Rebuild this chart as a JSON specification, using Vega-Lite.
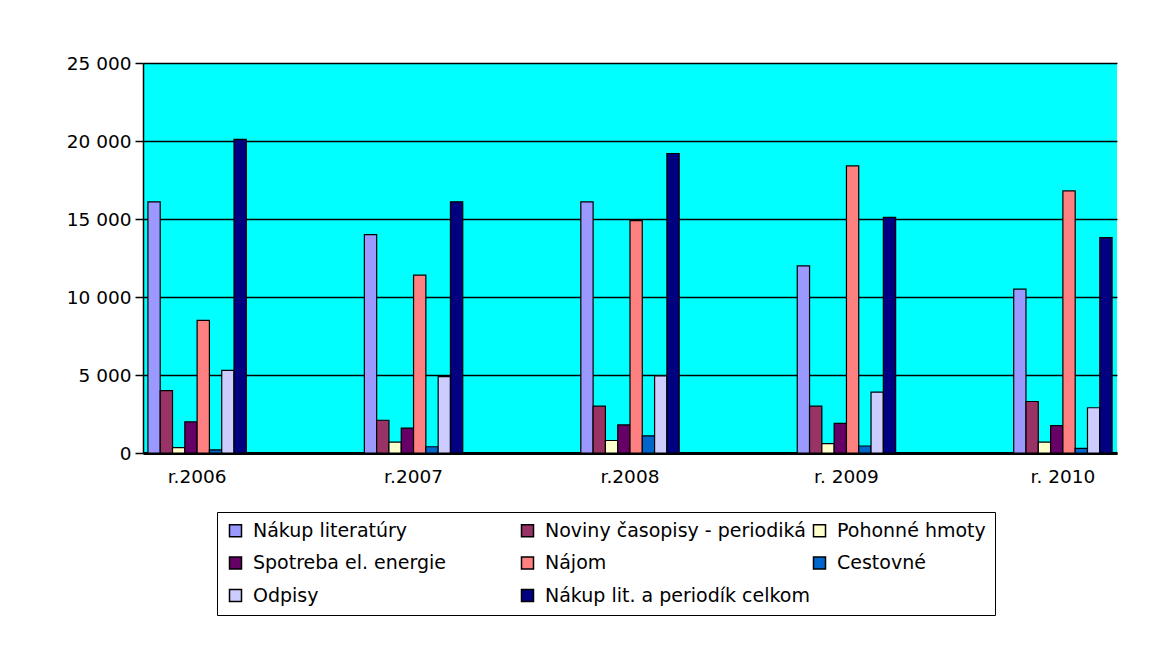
{
  "$schema": "https://vega.github.io/schema/vega-lite/v6.json",
  "width": 974,
  "height": 390,
  "autosize": {"type": "none"},
  "padding": {"left": 143, "top": 63, "right": 37, "bottom": 197},
  "background": "white",
  "config": {"font": "DejaVu Sans", "view": {"fill": "#00FFFF", "stroke": null}},
  "data": {"values": [
    {"year": "r.2006", "series": "Nákup literatúry", "value": 16100},
    {"year": "r.2006", "series": "Noviny časopisy - periodiká", "value": 4000},
    {"year": "r.2006", "series": "Pohonné hmoty", "value": 350},
    {"year": "r.2006", "series": "Spotreba el. energie", "value": 2000},
    {"year": "r.2006", "series": "Nájom", "value": 8500},
    {"year": "r.2006", "series": "Cestovné", "value": 200},
    {"year": "r.2006", "series": "Odpisy", "value": 5300},
    {"year": "r.2006", "series": "Nákup lit. a periodík celkom", "value": 20100},
    {"year": "r.2007", "series": "Nákup literatúry", "value": 14000},
    {"year": "r.2007", "series": "Noviny časopisy - periodiká", "value": 2100},
    {"year": "r.2007", "series": "Pohonné hmoty", "value": 700},
    {"year": "r.2007", "series": "Spotreba el. energie", "value": 1600},
    {"year": "r.2007", "series": "Nájom", "value": 11400},
    {"year": "r.2007", "series": "Cestovné", "value": 400},
    {"year": "r.2007", "series": "Odpisy", "value": 4900},
    {"year": "r.2007", "series": "Nákup lit. a periodík celkom", "value": 16100},
    {"year": "r.2008", "series": "Nákup literatúry", "value": 16100},
    {"year": "r.2008", "series": "Noviny časopisy - periodiká", "value": 3000},
    {"year": "r.2008", "series": "Pohonné hmoty", "value": 800},
    {"year": "r.2008", "series": "Spotreba el. energie", "value": 1800},
    {"year": "r.2008", "series": "Nájom", "value": 14900},
    {"year": "r.2008", "series": "Cestovné", "value": 1100},
    {"year": "r.2008", "series": "Odpisy", "value": 4950},
    {"year": "r.2008", "series": "Nákup lit. a periodík celkom", "value": 19200},
    {"year": "r. 2009", "series": "Nákup literatúry", "value": 12000},
    {"year": "r. 2009", "series": "Noviny časopisy - periodiká", "value": 3000},
    {"year": "r. 2009", "series": "Pohonné hmoty", "value": 600},
    {"year": "r. 2009", "series": "Spotreba el. energie", "value": 1900},
    {"year": "r. 2009", "series": "Nájom", "value": 18400},
    {"year": "r. 2009", "series": "Cestovné", "value": 450},
    {"year": "r. 2009", "series": "Odpisy", "value": 3900},
    {"year": "r. 2009", "series": "Nákup lit. a periodík celkom", "value": 15100},
    {"year": "r. 2010", "series": "Nákup literatúry", "value": 10500},
    {"year": "r. 2010", "series": "Noviny časopisy - periodiká", "value": 3300},
    {"year": "r. 2010", "series": "Pohonné hmoty", "value": 700},
    {"year": "r. 2010", "series": "Spotreba el. energie", "value": 1750},
    {"year": "r. 2010", "series": "Nájom", "value": 16800},
    {"year": "r. 2010", "series": "Cestovné", "value": 300},
    {"year": "r. 2010", "series": "Odpisy", "value": 2900},
    {"year": "r. 2010", "series": "Nákup lit. a periodík celkom", "value": 13800}
  ]},
  "mark": {"type": "bar", "stroke": "black", "strokeWidth": 1.2},
  "encoding": {
    "x": {
      "field": "year", "type": "nominal", "sort": null,
      "scale": {"paddingInner": 0.5, "paddingOuter": 0},
      "axis": {"title": null, "labelAngle": 0, "labelFontSize": 18.5, "labelColor": "black", "ticks": false, "domainColor": "black", "domainWidth": 3, "labelPadding": 14}
    },
    "xOffset": {"field": "series", "type": "nominal", "sort": null, "scale": {"paddingOuter": 0.4, "paddingInner": 0}},
    "y": {
      "field": "value", "type": "quantitative",
      "scale": {"domain": [0, 25000], "nice": false},
      "axis": {
        "title": null, "values": [0, 5000, 10000, 15000, 20000, 25000],
        "labelExpr": "replace(format(datum.value, ','), ',', ' ')",
        "grid": true, "gridColor": "black", "gridWidth": 1.5, "gridOpacity": 1,
        "domainColor": "black", "domainWidth": 1.5, "tickColor": "black", "tickWidth": 1.5, "tickSize": 8,
        "labelFontSize": 18.5, "labelColor": "black", "labelPadding": 4
      }
    },
    "color": {
      "field": "series", "type": "nominal",
      "scale": {
        "domain": ["Nákup literatúry", "Spotreba el. energie", "Odpisy", "Noviny časopisy - periodiká", "Nájom", "Nákup lit. a periodík celkom", "Pohonné hmoty", "Cestovné"],
        "range": ["#9999FF", "#660066", "#CCCCFF", "#993366", "#FF8080", "#000080", "#FFFFCC", "#0066CC"]
      },
      "legend": {"orient": "none", "legendX": 74, "legendY": 449, "columns": 3, "title": null, "symbolType": "square", "symbolSize": 144, "symbolStrokeColor": "black", "symbolStrokeWidth": 1.5, "labelFontSize": 19, "labelColor": "black", "rowPadding": 12.5, "columnPadding": 0, "gridAlign": "all", "strokeColor": "black", "fillColor": "white", "padding": 9, "labelLimit": 400, "labelOffset": 8}
    }
  }
}
